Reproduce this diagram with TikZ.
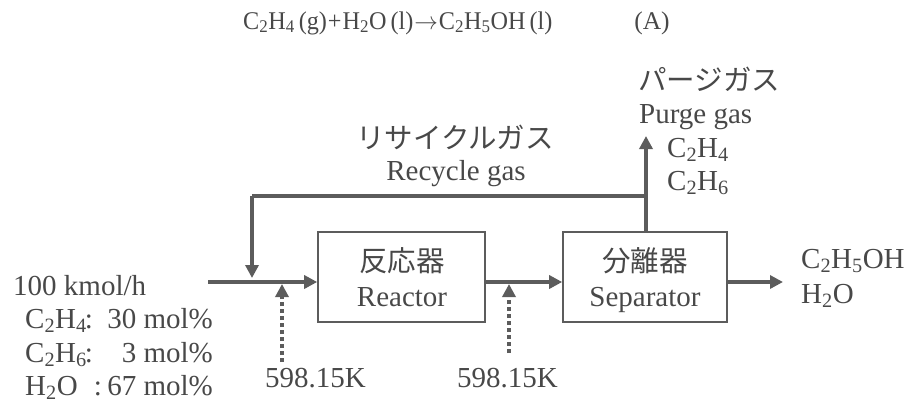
\documentclass[tikz,border=0pt]{standalone}
\usepackage{fontspec}
\setmainfont{Liberation Serif}
\newfontfamily\jpfont{Noto Sans CJK JP}
\usetikzlibrary{arrows.meta}
\definecolor{ink}{RGB}{92,92,92}
\definecolor{txt}{RGB}{72,72,72}
\newcommand{\subs}[1]{\textsubscript{#1}}
\tikzset{
  every node/.style={text=txt, inner sep=0pt, font=\fontsize{29}{32}\selectfont},
  unitbox/.style={draw=ink, line width=1.6pt, minimum width=167pt, minimum height=90pt},
  flow/.style={draw=ink, line width=3.8pt, -{Triangle[length=13pt,width=13pt]}},
  pipe/.style={draw=ink, line width=3.8pt},
  heat/.style={draw=ink, line width=3.8pt, dash pattern=on 4pt off 3pt, -{Triangle[length=13pt,width=13pt]}},
  jp/.style={font=\fontsize{28.5}{32}\jpfont},
  eq/.style={font=\fontsize{25.5}{28}\selectfont},
}
\begin{document}
\begin{tikzpicture}[x=1pt,y=-1pt]
\useasboundingbox (0,0) rectangle (906,405);
% equation
\node[eq, anchor=base west] (eqn) at (243,29) {\scalebox{0.95}[1]{C\subs{2}H\subs{4}\,(g)\kern1pt+\kern1ptH\subs{2}O\,(l)\kern1pt$\rightarrow$\kern1ptC\subs{2}H\subs{5}OH\,(l)}};
\node[eq, anchor=base] (eqA) at (652,29) {(A)};
% units
\node[unitbox] (reac) at (401.5,277) {};
\node[unitbox, minimum width=164pt] (sep) at (645,277) {};
\node[jp] (reacJ) at (402,261) {反応器};
\node[anchor=base] (reacE) at (402,306) {Reactor};
\node[jp] (sepJ) at (645,261) {分離器};
\node[anchor=base] (sepE) at (645,306) {Separator};
% coordinates
\coordinate (feed) at (208,282);
\coordinate (mix) at (252,282);
\coordinate (mixtop) at (252,278);
\coordinate (rc) at (252,196);
\coordinate (split) at (646,196);
\coordinate (purge) at (646,136);
\coordinate (sepbase) at (646,232);
\coordinate (h1) at (282,362);
\coordinate (h1t) at (282,284);
\coordinate (h2) at (509,353);
\coordinate (h2t) at (509,284);
\coordinate (prod) at (783,282);
% streams
\draw[flow] (feed) -- (reac.west |- feed);
\draw[flow] (reac.east |- feed) -- (sep.west |- feed);
\draw[flow] (sep.east |- feed) -- (prod);
\draw[flow] (sepbase) -- (purge);
\draw[pipe] (split) -- (rc);
\draw[flow] (rc) -- (mixtop);
\draw[heat] (h1) -- (h1t);
\draw[heat] (h2) -- (h2t);
% labels
\node[anchor=west, jp] (pgJ) at (638,79) {パージガス};
\node[anchor=base west] (pgE) at (639,123) {Purge gas};
\node[anchor=base west] (pg1) at (667,157) {C\subs{2}H\subs{4}};
\node[anchor=base west] (pg2) at (667,190) {C\subs{2}H\subs{6}};
\node[jp] (rcJ) at (455,137) {リサイクルガス};
\node[anchor=base] (rcE) at (456,180) {Recycle gas};
\node[anchor=base west] (pr1) at (801,268) {C\subs{2}H\subs{5}OH};
\node[anchor=base west] (pr2) at (801,303) {H\subs{2}O};
\node[anchor=base west] (t1) at (265,387) {598.15K};
\node[anchor=base west] (t2) at (457,387) {598.15K};
\node[anchor=base west] (fd) at (13,295) {100 kmol/h};
\node[anchor=base west] (f1) at (25,328) {C\subs{2}H\subs{4}};
\node[anchor=base west] (f2) at (25,362) {C\subs{2}H\subs{6}};
\node[anchor=base west] (f3) at (25,395) {H\subs{2}O};
\node[anchor=base] (c1) at (89,328) {:};
\node[anchor=base] (c2) at (89,362) {:};
\node[anchor=base] (c3) at (98,395) {:};
\node[anchor=base east] (v1) at (213,328) {30 mol\%};
\node[anchor=base east] (v2) at (213,362) {3 mol\%};
\node[anchor=base east] (v3) at (213,395) {67 mol\%};
\end{tikzpicture}
\end{document}
